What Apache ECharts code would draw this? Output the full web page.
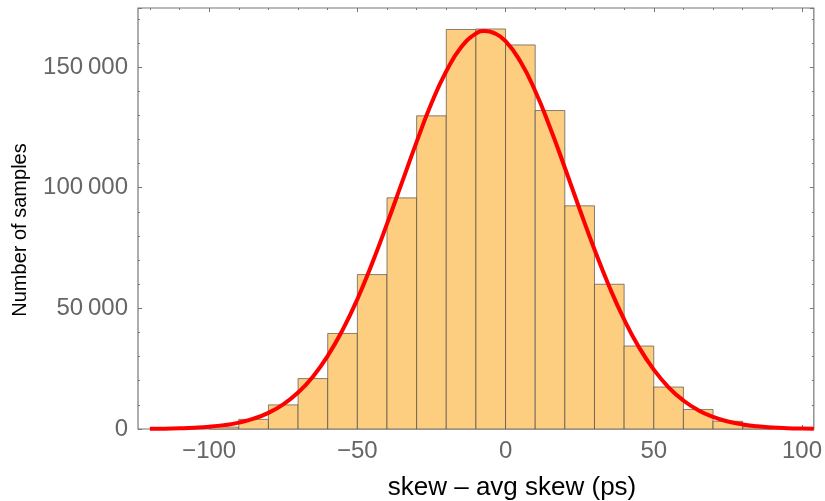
<!DOCTYPE html>
<html>
<head>
<meta charset="utf-8">
<script src="https://cdn.jsdelivr.net/npm/echarts@6/dist/echarts.min.js"></script>
<style>
  html, body { margin: 0; padding: 0; background: #fff; }
  #chart { width: 825px; height: 501px; }
</style>
</head>
<body>
<div id="chart"></div>
<script>
// histogram bins (ps), width 10
const binStarts = [-100, -90, -80, -70, -60, -50, -40, -30, -20, -10, 0, 10, 20, 30, 40, 50, 60, 70, 80];
const binCounts = [800, 4000, 10000, 20900, 39600, 64000, 95800, 129800, 165600, 165800,
                   159200, 132000, 92500, 60000, 34400, 17400, 8100, 3200, 900];
const binWidth = 10;

// fitted curve
const fitX = [-120, -115, -110, -105, -100, -95, -90, -85, -80, -75, -70, -65, -60, -55, -50, -45, -40, -35, -30, -25,
              -20, -15, -10, -7, -4, 0, 5, 10, 15, 20, 25, 30, 35, 40, 45, 50, 55, 60, 65, 70, 75, 80, 85, 90, 95, 100, 104];
const fitY = [100, 150, 290, 520, 920, 1600, 2650, 4300, 6700, 10200, 15100, 21700, 30300, 41000, 53800, 68700, 85000, 102000, 119000, 135000,
              148300, 158200, 163900, 165000, 164200, 160800, 152300, 140100, 125000, 108300, 91100, 74400, 59000, 45400, 33900, 24600, 17300, 11800, 7800, 5000, 3100, 1900, 1100, 640, 360, 190, 120];

const xTicks = [-100, -50, 0, 50, 100];
const xMinor = [-120, -110, -90, -80, -70, -60, -40, -30, -20, -10, 10, 20, 30, 40, 60, 70, 80, 90];

const xMin = -124, xMax = 104;
const yMax = 174500;

const frameColor = '#777777';
const labelColor = '#666666';
const font = 'Liberation Sans, Arial, sans-serif';

const chart = echarts.init(document.getElementById('chart'));

function fmtX(v) {
  return String(v).replace('-', '\u2212');
}
function fmtY(v) {
  if (v === 0) return '0';
  const s = String(v);
  return s.slice(0, s.length - 3) + '\u2009' + s.slice(-3);
}

const histData = binStarts.map((s, i) => [s, s + binWidth, binCounts[i]]);
const fitData = fitX.map((x, i) => [x, fitY[i]]);

function xAxisDef(pos, values, len, labels) {
  return {
    type: 'value', position: pos, min: xMin, max: xMax,
    axisLine: { show: false, onZero: false },
    splitLine: { show: false },
    axisTick: { show: true, inside: true, length: len, customValues: values,
      lineStyle: { color: frameColor, width: 1 } },
    axisLabel: labels ? { show: true, customValues: values, formatter: fmtX, color: labelColor,
      fontFamily: font, fontSize: 24, margin: 10 } : { show: false }
  };
}

function yAxisDef(pos, labels) {
  return {
    type: 'value', position: pos, min: 0, max: yMax, interval: 50000,
    axisLine: { show: false, onZero: false },
    splitLine: { show: false },
    axisTick: { show: true, inside: true, length: 4, lineStyle: { color: frameColor, width: 1 } },
    minorTick: { show: true, splitNumber: 5, length: 2, lineStyle: { color: frameColor, width: 1 } },
    axisLabel: labels ? { show: true, formatter: fmtY, color: labelColor, fontFamily: font,
      fontSize: 24, margin: 10, showMaxLabel: false } : { show: false }
  };
}

const option = {
  animation: false,
  backgroundColor: '#ffffff',
  grid: {
    left: 138, right: 9, top: 8, bottom: 72,
    show: true, borderColor: frameColor, borderWidth: 1.2, backgroundColor: 'transparent'
  },
  xAxis: [
    xAxisDef('bottom', xTicks, 4, true),
    xAxisDef('bottom', xMinor, 2, false),
    xAxisDef('top', xTicks, 4, false),
    xAxisDef('top', xMinor, 2, false)
  ],
  yAxis: [
    yAxisDef('left', true),
    yAxisDef('right', false)
  ],
  graphic: [
    {
      type: 'text', x: 512, y: 488,
      style: { text: 'skew \u2013 avg skew (ps)', fill: '#000', font: '26px ' + font,
        textAlign: 'center', textVerticalAlign: 'middle' }
    },
    {
      type: 'text', x: 20, y: 230, rotation: Math.PI / 2,
      style: { text: 'Number of samples', fill: '#000', font: '20px ' + font,
        textAlign: 'center', textVerticalAlign: 'middle' }
    }
  ],
  series: [
    {
      type: 'custom',
      xAxisIndex: 0, yAxisIndex: 0,
      data: histData,
      encode: { x: [0, 1], y: 2 },
      renderItem: function (params, api) {
        const p0 = api.coord([api.value(0), api.value(2)]);
        const p1 = api.coord([api.value(1), 0]);
        return {
          type: 'rect',
          shape: { x: p0[0], y: p0[1], width: p1[0] - p0[0], height: p1[1] - p0[1] },
          style: { fill: '#fdcd80', stroke: 'rgba(70,70,70,0.65)', lineWidth: 1 }
        };
      },
      z: 2
    },
    {
      type: 'line',
      xAxisIndex: 0, yAxisIndex: 0,
      data: fitData,
      smooth: 0.5,
      showSymbol: false,
      lineStyle: { color: '#ff0000', width: 4 },
      z: 3
    }
  ]
};

chart.setOption(option);
</script>
</body>
</html>
